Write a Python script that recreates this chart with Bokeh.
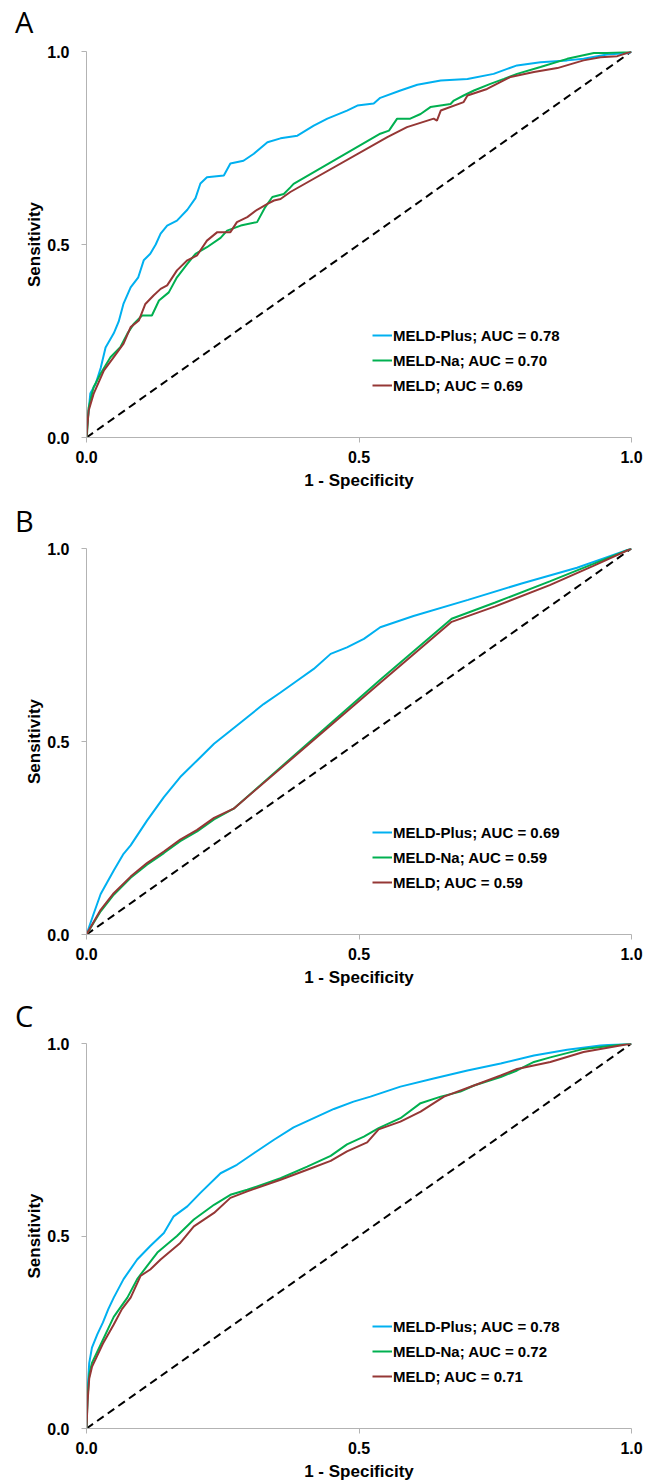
from bokeh.plotting import figure
from bokeh.models import (FixedTicker, PrintfTickFormatter, Legend, LegendItem, Div)
from bokeh.layouts import column
from bokeh.embed import file_html
from bokeh.resources import INLINE

# ---------------- data ----------------
panel_letters = ["A", "B", "C"]
model_names = ["MELD-Plus", "MELD-Na", "MELD"]
auc_A = [0.78, 0.70, 0.69]
auc_B = [0.69, 0.59, 0.59]
auc_C = [0.78, 0.72, 0.71]
x_ticks = [0.0, 0.5, 1.0]
y_ticks = [0.0, 0.5, 1.0]

A_plus_fpr = [0, 0.001, 0.004, 0.007, 0.017, 0.026, 0.035, 0.05, 0.059, 0.068, 0.081, 0.095, 0.105, 0.117, 0.127, 0.136, 0.148, 0.166, 0.185, 0.2, 0.209, 0.221, 0.252, 0.264, 0.288, 0.307, 0.332, 0.356, 0.387, 0.417, 0.442, 0.478, 0.497, 0.527, 0.539, 0.576, 0.607, 0.65, 0.699, 0.747, 0.772, 0.79, 0.833, 0.882, 0.912, 0.955, 0.995, 1.0]
A_plus_tpr = [0, 0.03, 0.07, 0.114, 0.14, 0.18, 0.233, 0.27, 0.30, 0.347, 0.389, 0.415, 0.459, 0.476, 0.50, 0.528, 0.549, 0.562, 0.59, 0.62, 0.658, 0.674, 0.679, 0.71, 0.717, 0.735, 0.765, 0.775, 0.782, 0.808, 0.826, 0.847, 0.86, 0.865, 0.88, 0.899, 0.914, 0.925, 0.929, 0.942, 0.955, 0.964, 0.972, 0.977, 0.981, 0.992, 0.996, 1.0]
A_na_fpr = [0, 0.001, 0.004, 0.013, 0.026, 0.044, 0.062, 0.075, 0.087, 0.102, 0.12, 0.133, 0.151, 0.166, 0.185, 0.2, 0.221, 0.246, 0.258, 0.283, 0.313, 0.328, 0.341, 0.362, 0.374, 0.38, 0.539, 0.555, 0.57, 0.594, 0.613, 0.631, 0.668, 0.674, 0.692, 0.711, 0.741, 0.766, 0.79, 0.833, 0.882, 0.931, 0.955, 1.0]
A_na_tpr = [0, 0.01, 0.078, 0.13, 0.166, 0.208, 0.234, 0.269, 0.295, 0.316, 0.316, 0.355, 0.376, 0.415, 0.45, 0.476, 0.493, 0.517, 0.536, 0.549, 0.558, 0.597, 0.623, 0.631, 0.648, 0.657, 0.787, 0.795, 0.826, 0.826, 0.838, 0.856, 0.864, 0.873, 0.886, 0.899, 0.916, 0.929, 0.942, 0.96, 0.981, 0.996, 0.996, 1.0]
A_meld_fpr = [0, 0.001, 0.004, 0.013, 0.032, 0.05, 0.068, 0.081, 0.096, 0.108, 0.123, 0.136, 0.148, 0.154, 0.166, 0.185, 0.203, 0.221, 0.24, 0.264, 0.276, 0.295, 0.313, 0.332, 0.344, 0.356, 0.374, 0.552, 0.57, 0.588, 0.637, 0.643, 0.65, 0.692, 0.699, 0.735, 0.778, 0.821, 0.864, 0.912, 0.943, 0.974, 1.0]
A_meld_tpr = [0, 0.02, 0.07, 0.113, 0.174, 0.208, 0.243, 0.286, 0.303, 0.346, 0.368, 0.385, 0.394, 0.407, 0.433, 0.459, 0.472, 0.51, 0.532, 0.532, 0.558, 0.571, 0.59, 0.605, 0.614, 0.618, 0.636, 0.778, 0.791, 0.804, 0.826, 0.821, 0.847, 0.869, 0.886, 0.903, 0.934, 0.947, 0.957, 0.977, 0.985, 0.988, 1.0]

B_plus_fpr = [0, 0.013, 0.026, 0.05, 0.068, 0.081, 0.111, 0.142, 0.172, 0.203, 0.234, 0.264, 0.295, 0.325, 0.356, 0.387, 0.417, 0.448, 0.478, 0.509, 0.539, 0.6, 0.7, 0.8, 0.9, 0.95, 1.0]
B_plus_tpr = [0, 0.053, 0.105, 0.166, 0.209, 0.231, 0.295, 0.356, 0.408, 0.451, 0.494, 0.528, 0.563, 0.597, 0.627, 0.658, 0.688, 0.727, 0.744, 0.766, 0.796, 0.825, 0.867, 0.91, 0.95, 0.975, 1.0]
B_na_fpr = [0, 0.026, 0.05, 0.081, 0.111, 0.142, 0.172, 0.203, 0.234, 0.27, 0.539, 0.67, 0.75, 0.85, 0.93, 1.0]
B_na_tpr = [0, 0.06, 0.103, 0.147, 0.181, 0.211, 0.242, 0.267, 0.298, 0.326, 0.66, 0.818, 0.86, 0.915, 0.96, 1.0]
B_meld_fpr = [0, 0.026, 0.05, 0.081, 0.111, 0.142, 0.172, 0.203, 0.234, 0.27, 0.539, 0.67, 0.75, 0.85, 0.93, 1.0]
B_meld_tpr = [0, 0.064, 0.107, 0.15, 0.185, 0.215, 0.246, 0.271, 0.302, 0.326, 0.652, 0.81, 0.85, 0.905, 0.955, 1.0]

C_plus_fpr = [0, 0.002, 0.005, 0.01, 0.02, 0.03, 0.04, 0.05, 0.068, 0.093, 0.117, 0.142, 0.16, 0.185, 0.209, 0.246, 0.276, 0.307, 0.344, 0.38, 0.417, 0.454, 0.49, 0.521, 0.576, 0.637, 0.699, 0.76, 0.821, 0.882, 0.943, 1.0]
C_plus_tpr = [0, 0.1, 0.17, 0.21, 0.245, 0.275, 0.31, 0.34, 0.388, 0.439, 0.474, 0.508, 0.551, 0.577, 0.612, 0.663, 0.685, 0.715, 0.75, 0.782, 0.806, 0.83, 0.849, 0.862, 0.888, 0.909, 0.93, 0.948, 0.969, 0.984, 0.995, 1.0]
C_na_fpr = [0, 0.002, 0.005, 0.01, 0.02, 0.03, 0.04, 0.05, 0.06, 0.075, 0.093, 0.111, 0.13, 0.166, 0.197, 0.234, 0.264, 0.295, 0.356, 0.405, 0.448, 0.478, 0.509, 0.536, 0.576, 0.613, 0.65, 0.686, 0.711, 0.76, 0.79, 0.821, 0.851, 0.912, 1.0]
C_na_tpr = [0, 0.08, 0.14, 0.17, 0.2, 0.23, 0.26, 0.29, 0.31, 0.34, 0.388, 0.422, 0.457, 0.5, 0.543, 0.581, 0.607, 0.62, 0.65, 0.68, 0.708, 0.738, 0.758, 0.78, 0.806, 0.845, 0.862, 0.875, 0.891, 0.913, 0.93, 0.952, 0.964, 0.986, 1.0]
C_meld_fpr = [0, 0.002, 0.005, 0.01, 0.02, 0.03, 0.05, 0.065, 0.081, 0.099, 0.117, 0.136, 0.172, 0.197, 0.234, 0.264, 0.295, 0.356, 0.405, 0.448, 0.478, 0.515, 0.536, 0.576, 0.613, 0.656, 0.711, 0.76, 0.79, 0.851, 0.912, 1.0]
C_meld_tpr = [0, 0.07, 0.13, 0.16, 0.19, 0.22, 0.27, 0.31, 0.34, 0.396, 0.413, 0.439, 0.482, 0.525, 0.56, 0.599, 0.616, 0.646, 0.672, 0.695, 0.72, 0.743, 0.777, 0.797, 0.823, 0.862, 0.891, 0.917, 0.934, 0.952, 0.978, 1.0]

chance_x = [0, 1]
chance_y = [0, 1]

colors = ["#00b0f0", "#00b050", "#953735"]
FONT = "Liberation Sans"


def letter_div(letter, height, pad_top):
    html = ('<div style="font-family: \'Open Sans\'; font-size: 29px; line-height: 29px; '
            f'color: black; padding: {pad_top}px 0 0 15px; margin: 0;">{letter}</div>')
    return Div(text=html, width=643, height=height, margin=(0, 0, 0, 0))


def make_panel(curves, aucs, height, border_top, border_bottom):
    p = figure(width=643, height=height, x_range=(0, 1), y_range=(0, 1),
               output_backend="svg", toolbar_location=None,
               min_border_left=86, min_border_right=12,
               min_border_top=border_top, min_border_bottom=border_bottom,
               margin=(0, 0, 0, 0))
    p.outline_line_color = None
    p.grid.visible = False
    p.background_fill_color = "white"

    p.line(chance_x, chance_y, line_color="black", line_width=2, line_dash="8 5")
    renderers = []
    for (fx, ty), c in zip(curves, colors):
        renderers.append(p.line(fx, ty, line_color=c, line_width=2))

    for ax in (p.xaxis[0], p.yaxis[0]):
        ax.axis_line_color = "#b3b3b3"
        ax.major_tick_line_color = "#b3b3b3"
        ax.minor_tick_line_color = None
        ax.major_tick_in = 0
        ax.major_tick_out = 5
        ax.major_label_text_font = FONT
        ax.major_label_text_font_style = "bold"
        ax.major_label_text_font_size = "16px"
        ax.major_label_text_color = "black"
        ax.axis_label_text_font = FONT
        ax.axis_label_text_font_style = "bold"
        ax.axis_label_text_font_size = "17px"
        ax.axis_label_text_color = "black"
        ax.formatter = PrintfTickFormatter(format="%.1f")
    p.xaxis.ticker = FixedTicker(ticks=x_ticks)
    p.yaxis.ticker = FixedTicker(ticks=y_ticks)
    p.xaxis.axis_label = "1 - Specificity"
    p.yaxis.axis_label = "Sensitivity"
    p.xaxis.major_label_standoff = 8
    p.xaxis.axis_label_standoff = 5
    p.yaxis.major_label_standoff = 12
    p.yaxis.axis_label_standoff = 0

    items = [LegendItem(label=f"{n}; AUC = {a:.2f}", renderers=[r])
             for n, a, r in zip(model_names, aucs, renderers)]
    legend = Legend(items=items, location=(286, 42), padding=0, margin=0,
                    spacing=5, glyph_width=20, glyph_height=20, label_height=20,
                    label_standoff=1, border_line_alpha=0, background_fill_alpha=0,
                    label_text_font=FONT, label_text_font_style="bold",
                    label_text_font_size="15px", label_text_color="black")
    p.add_layout(legend)
    return p


divA = letter_div(panel_letters[0], 41, 7)
pA = make_panel([(A_plus_fpr, A_plus_tpr), (A_na_fpr, A_na_tpr), (A_meld_fpr, A_meld_tpr)],
                auc_A, 463, 10, 67)
divB = letter_div(panel_letters[1], 34, 2)
pB = make_panel([(B_plus_fpr, B_plus_tpr), (B_na_fpr, B_na_tpr), (B_meld_fpr, B_meld_tpr)],
                auc_B, 462, 10, 66)
divC = letter_div(panel_letters[2], 33, 1)
pC = make_panel([(C_plus_fpr, C_plus_tpr), (C_na_fpr, C_na_tpr), (C_meld_fpr, C_meld_tpr)],
                auc_C, 450, 10, 53)

layout = column(divA, pA, divB, pB, divC, pC, spacing=0)
open("out.html", "w").write(file_html(layout, INLINE))
